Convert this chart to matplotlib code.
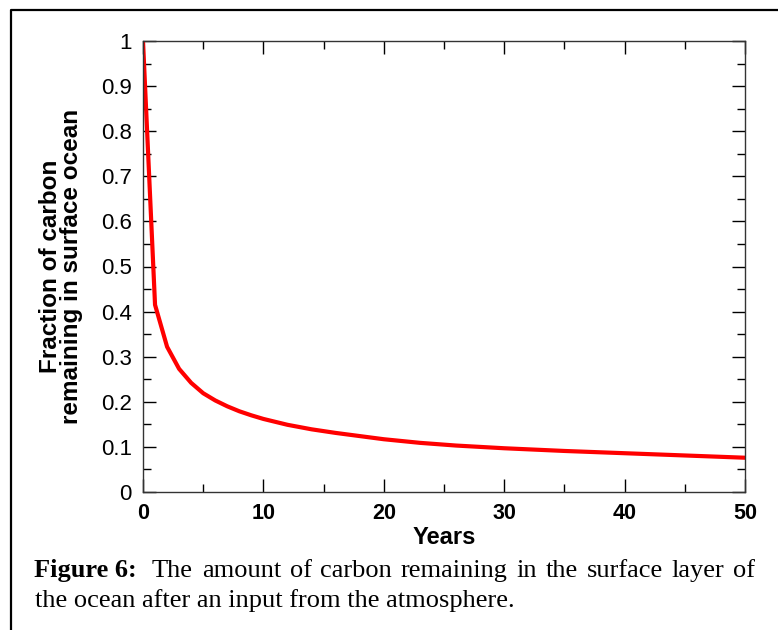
import matplotlib.pyplot as plt
from matplotlib.lines import Line2D
from matplotlib.ticker import MultipleLocator

# values
years = [0, 1, 2, 3, 4, 5, 6, 7, 8, 9, 10, 12, 14, 16, 18, 20, 23, 26, 30, 35, 40, 45, 50]
fraction = [1.0, 0.415, 0.322, 0.273, 0.242, 0.219, 0.203, 0.19, 0.179, 0.17, 0.162,
            0.149, 0.139, 0.131, 0.124, 0.117, 0.109, 0.103, 0.097, 0.091, 0.086, 0.081, 0.076]
x_ticks = [0, 10, 20, 30, 40, 50]
y_ticks = [0, 0.1, 0.2, 0.3, 0.4, 0.5, 0.6, 0.7, 0.8, 0.9, 1]
y_tick_labels = ['0', '0.1', '0.2', '0.3', '0.4', '0.5', '0.6', '0.7', '0.8', '0.9', '1']
caption_head = 'Figure 6:'
caption_line1 = 'The amount of carbon remaining in the surface layer of'
caption_line2 = 'the ocean after an input from the atmosphere.'

W, H = 778, 630
SERIF = 'Liberation Serif'
CAP_SIZE = 19


def justified(fig, words, x_start, x_end, y):
    # place words so the line fills x_start..x_end like the typeset caption
    renderer = fig.canvas.get_renderer()
    texts = [fig.text(0, y, w, fontsize=CAP_SIZE, family=SERIF, va='baseline') for w in words]
    widths = [t.get_window_extent(renderer).width for t in texts]
    gap = (x_end - x_start - sum(widths)) / (len(words) - 1)
    x = x_start
    for t, w in zip(texts, widths):
        t.set_x(x / W)
        x += w + gap


def main():
    plt.rcParams['font.family'] = ['Liberation Sans', 'DejaVu Sans']
    fig = plt.figure(figsize=(W / 100, H / 100), dpi=100)
    ax = fig.add_axes([143 / W, 1 - 492 / H, 602 / W, 451 / H])

    ax.plot(years, fraction, color='#ff0000', linewidth=3, solid_joinstyle='round')

    ax.set_xlim(0, 50)
    ax.set_ylim(0, 1)
    ax.set_xticks(x_ticks)
    ax.set_xticklabels([str(v) for v in x_ticks], fontweight='bold', fontsize=15.5)
    ax.set_yticks(y_ticks)
    ax.set_yticklabels(y_tick_labels, fontsize=16)
    ax.xaxis.set_minor_locator(MultipleLocator(5))
    ax.yaxis.set_minor_locator(MultipleLocator(0.05))
    ax.tick_params(which='both', direction='in', top=True, right=True, width=1, colors='black')
    ax.tick_params(which='major', length=9.5)
    ax.tick_params(which='minor', length=5.5)
    ax.tick_params(axis='y', pad=8)
    ax.tick_params(axis='x', pad=8)
    for s in ax.spines.values():
        s.set_linewidth(1)
        s.set_color('#333333')

    ax.set_xlabel('Years', fontsize=17, fontweight='bold', labelpad=1)
    ax.set_ylabel('Fraction of carbon\nremaining in surface ocean', fontsize=17.5,
                  fontweight='bold', labelpad=13, linespacing=0.9)

    # caption below the plot
    y1 = 1 - 577 / H
    fig.text(34 / W, y1, caption_head, fontsize=CAP_SIZE, fontweight='bold',
             family=SERIF, va='baseline')
    justified(fig, caption_line1.split(), 152, 755, y1)
    fig.text(35 / W, 1 - 607 / H, caption_line2, fontsize=CAP_SIZE, family=SERIF,
             va='baseline')

    # frame around the figure
    x0, y0 = 11 / W, 1 - 10 / H
    fig.add_artist(Line2D([x0, x0, 1.05], [-0.05, y0, y0], color='black', linewidth=1.6,
                          transform=fig.transFigure))

    fig.savefig('out.png', dpi=100)


if __name__ == '__main__':
    main()
